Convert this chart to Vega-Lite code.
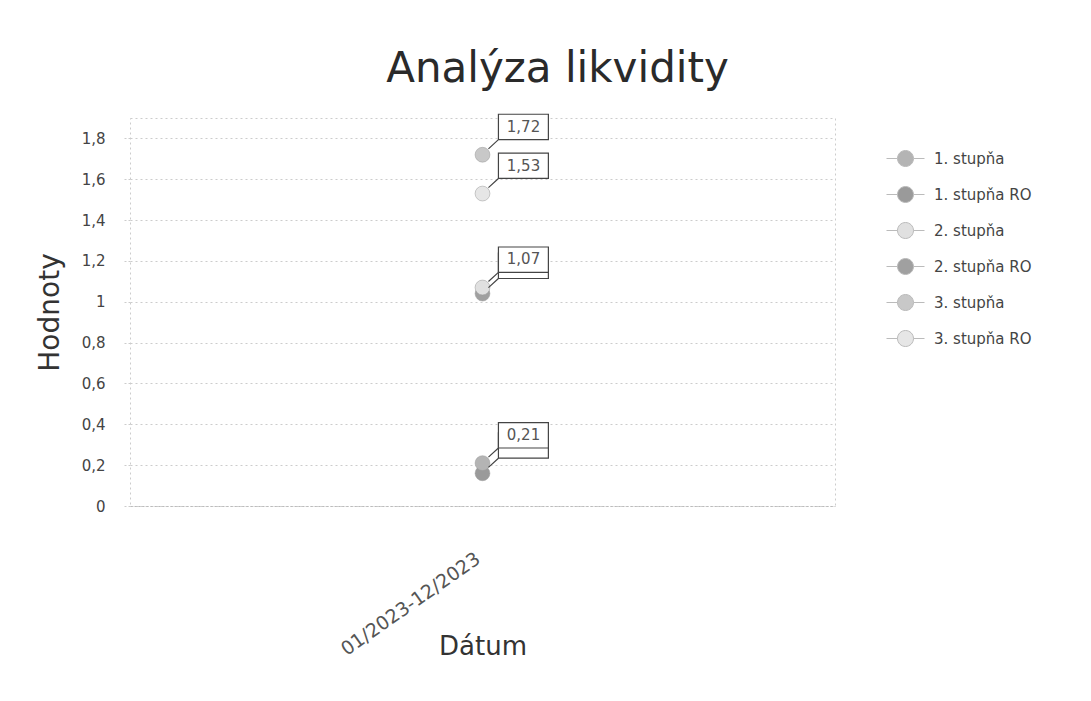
{
  "$schema": "https://vega.github.io/schema/vega-lite/v6.json",
  "width": 705,
  "height": 388,
  "autosize": "none",
  "padding": {"left": 130, "top": 118, "right": 256, "bottom": 195},
  "background": "white",
  "title": {"text": "Analýza likvidity", "fontSize": 42, "font": "DejaVu Sans", "fontWeight": "normal", "color": "#2a2a2a", "offset": 21, "anchor": "middle", "frame": "group", "dx": 75},
  "data": {"values": [
    {"Dátum": "01/2023-12/2023", "series": "1. stupňa RO", "value": 0.16, "label": false},
    {"Dátum": "01/2023-12/2023", "series": "2. stupňa RO", "value": 1.04, "label": false},
    {"Dátum": "01/2023-12/2023", "series": "3. stupňa RO", "value": 1.53, "label": true},
    {"Dátum": "01/2023-12/2023", "series": "1. stupňa", "value": 0.21, "label": true},
    {"Dátum": "01/2023-12/2023", "series": "2. stupňa", "value": 1.07, "label": true},
    {"Dátum": "01/2023-12/2023", "series": "3. stupňa", "value": 1.72, "label": true}
  ]},
  "encoding": {
    "x": {"field": "Dátum", "type": "nominal", "axis": {"labelAngle": -35, "labelFontSize": 19, "labelFont": "DejaVu Sans", "labelColor": "#555", "labelPadding": 43, "labelOffset": -10, "title": "Dátum", "titleFontSize": 26, "titleFont": "DejaVu Sans", "titleFontWeight": "normal", "titleColor": "#333", "titlePadding": -26, "ticks": false, "domainColor": "#bbb", "domainDash": [2, 2]}},
    "y": {"field": "value", "type": "quantitative", "scale": {"domain": [0, 1.9]}, "axis": {"values": [0, 0.2, 0.4, 0.6, 0.8, 1, 1.2, 1.4, 1.6, 1.8], "format": ".1~f", "labelFontSize": 15, "labelFont": "DejaVu Sans", "labelColor": "#444", "labelPadding": 17, "tickSize": 8, "tickColor": "#ccc", "tickDash": [2, 2], "grid": true, "gridColor": "#ccc", "gridDash": [2, 3], "domain": false, "title": "Hodnoty", "titleFontSize": 28, "titleFont": "DejaVu Sans", "titleFontWeight": "normal", "titleColor": "#333", "titlePadding": 17}}
  },
  "layer": [
    {
      "mark": {"type": "point", "filled": true, "size": 220, "opacity": 1, "stroke": "#999", "strokeWidth": 0.5},
      "encoding": {
        "color": {"field": "series", "type": "nominal", "scale": {"domain": ["1. stupňa", "1. stupňa RO", "2. stupňa", "2. stupňa RO", "3. stupňa", "3. stupňa RO"], "range": ["#b4b4b4", "#9a9a9a", "#e0e0e0", "#a0a0a0", "#c8c8c8", "#e6e6e6"]},
          "legend": {"title": null, "orient": "none", "legendX": 765, "legendY": 30, "symbolType": "M-1.9,0 H-0.8 M0.8,0 H1.9 M-0.8,0 A0.8,0.8 0 1,0 0.8,0 A0.8,0.8 0 1,0 -0.8,0 Z", "symbolSize": 400, "symbolStrokeColor": "#bbb", "symbolStrokeWidth": 1, "labelFontSize": 15, "labelFont": "DejaVu Sans", "labelColor": "#444", "labelOffset": 18, "rowPadding": 15, "symbolOpacity": 1}}
      }
    },
    {
      "mark": {"type": "point", "shape": "M0.22,-0.22 L0.59,-0.56 M0.59,-0.56 H2.44 V-1.5 H0.59 Z", "size": 2916, "filled": true, "fill": "white", "stroke": "#444", "strokeWidth": 1.2, "opacity": 1}
    },
    {
      "transform": [{"filter": "datum.label"}],
      "mark": {"type": "text", "dx": 41, "dy": -28, "align": "center", "baseline": "middle", "fontSize": 15, "font": "DejaVu Sans", "color": "#555"},
      "encoding": {"text": {"field": "value", "type": "quantitative", "format": ".2f"}}
    }
  ],
  "config": {
    "locale": {"number": {"decimal": ",", "thousands": " ", "grouping": [3], "currency": ["", " €"]}},
    "view": {"stroke": "#ccc", "strokeDash": [2, 3]}
  }
}
